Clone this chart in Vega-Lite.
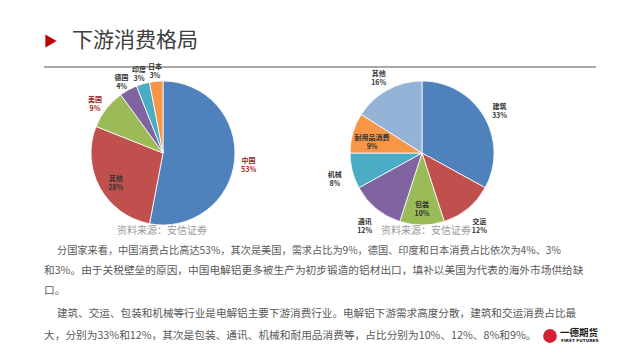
{
  "$schema": "https://vega.github.io/schema/vega-lite/v6.json",
  "width": 640,
  "height": 360,
  "autosize": {"type": "fit", "contains": "padding"},
  "padding": 0,
  "background": "#ffffff",
  "config": {"view": {"stroke": null}, "font": "Noto Sans CJK SC"},
  "datasets": {
    "countries": [
      {"chart": "国家", "rank": 1, "name": "中国", "share": 53},
      {"chart": "国家", "rank": 2, "name": "其他", "share": 28},
      {"chart": "国家", "rank": 3, "name": "美国", "share": 9},
      {"chart": "国家", "rank": 4, "name": "德国", "share": 4},
      {"chart": "国家", "rank": 5, "name": "印度", "share": 3},
      {"chart": "国家", "rank": 6, "name": "日本", "share": 3}
    ],
    "sectors": [
      {"chart": "行业", "rank": 1, "name": "建筑", "share": 33},
      {"chart": "行业", "rank": 2, "name": "交运", "share": 12},
      {"chart": "行业", "rank": 3, "name": "包装", "share": 10},
      {"chart": "行业", "rank": 4, "name": "通讯", "share": 12},
      {"chart": "行业", "rank": 5, "name": "机械", "share": 8},
      {"chart": "行业", "rank": 6, "name": "耐用品消费", "share": 9},
      {"chart": "行业", "rank": 7, "name": "其他", "share": 16}
    ],
    "sources": [
      {"chart": "国家", "src": "资料来源：安信证券"},
      {"chart": "行业", "src": "资料来源：安信证券"}
    ]
  },
  "layer": [
    {
      "data": {"values": [{}]},
      "mark": {"type": "point", "shape": "triangle-right", "filled": true, "color": "#C00000", "opacity": 1, "size": 170},
      "encoding": {"x": {"value": 51}, "y": {"value": 41}}
    },
    {
      "data": {"values": [{}]},
      "mark": {"type": "text", "align": "left", "baseline": "middle", "fontSize": 21, "color": "#404040", "font": "Noto Sans CJK SC"},
      "encoding": {"x": {"value": 72}, "y": {"value": 41}, "text": {"value": "下游消费格局"}}
    },
    {
      "data": {"values": [{}]},
      "mark": {"type": "rule", "color": "#8C8C8C", "strokeWidth": 1.5},
      "encoding": {"x": {"value": 44}, "x2": {"value": 596}, "y": {"value": 67}}
    },
    {
      "data": {"name": "countries"},
      "mark": {"type": "arc", "outerRadius": 72, "stroke": "#ffffff", "strokeWidth": 0.8},
      "encoding": {
        "theta": {"field": "share", "type": "quantitative", "stack": true},
        "order": {"field": "rank", "type": "quantitative"},
        "color": {"field": "name", "type": "nominal", "legend": null,
          "scale": {"domain": ["中国", "其他", "美国", "德国", "印度", "日本"],
                    "range": ["#4F81BD", "#C0504D", "#9BBB59", "#8064A2", "#4BACC6", "#F79646"]}},
        "x": {"field": "chart", "type": "nominal", "axis": null, "scale": {"type": "point", "domain": ["国家", "行业"], "range": [163, 422], "padding": 0}},
        "y": {"value": 153}
      }
    },
    {
      "data": {"name": "countries"},
      "transform": [{"calculate": "datum.name + '\\n' + datum.share + '%'", "as": "label"}],
      "mark": {"type": "text", "fontSize": 7, "fontWeight": "bold", "lineBreak": "\n", "align": "center", "baseline": "middle", "font": "Noto Sans CJK SC", "radius": 86},
      "encoding": {
        "theta": {"field": "share", "type": "quantitative", "stack": true},
        "order": {"field": "rank", "type": "quantitative"},
        "text": {"condition": {"test": "datum.name !== '其他'", "field": "label"}, "value": ""},
        "color": {"condition": {"test": "datum.name === '中国' || datum.name === '美国'", "value": "#9B1B1B"}, "value": "#333333"},
        "x": {"field": "chart", "type": "nominal", "axis": null, "scale": {"type": "point", "domain": ["国家", "行业"], "range": [163, 422], "padding": 0}},
        "y": {"value": 153}
      }
    },
    {
      "data": {"name": "countries"},
      "transform": [{"calculate": "datum.name + '\\n' + datum.share + '%'", "as": "label"}],
      "mark": {"type": "text", "fontSize": 7, "fontWeight": "bold", "lineBreak": "\n", "align": "center", "baseline": "middle", "font": "Noto Sans CJK SC", "radius": 54},
      "encoding": {
        "theta": {"field": "share", "type": "quantitative", "stack": true},
        "order": {"field": "rank", "type": "quantitative"},
        "text": {"condition": {"test": "datum.name === '其他'", "field": "label"}, "value": ""},
        "color": {"value": "#333333"},
        "x": {"field": "chart", "type": "nominal", "axis": null, "scale": {"type": "point", "domain": ["国家", "行业"], "range": [163, 422], "padding": 0}},
        "y": {"value": 153}
      }
    },
    {
      "data": {"name": "sectors"},
      "mark": {"type": "arc", "outerRadius": 72, "stroke": "#ffffff", "strokeWidth": 0.8},
      "encoding": {
        "theta": {"field": "share", "type": "quantitative", "stack": true},
        "order": {"field": "rank", "type": "quantitative"},
        "color": {"field": "name", "type": "nominal", "legend": null,
          "scale": {"domain": ["建筑", "交运", "包装", "通讯", "机械", "耐用品消费", "其他"],
                    "range": ["#4F81BD", "#C0504D", "#9BBB59", "#8064A2", "#4BACC6", "#F79646", "#95B3D7"]}},
        "x": {"field": "chart", "type": "nominal", "axis": null, "scale": {"type": "point", "domain": ["国家", "行业"], "range": [163, 422], "padding": 0}},
        "y": {"value": 153}
      }
    },
    {
      "data": {"name": "sectors"},
      "transform": [{"calculate": "datum.name + '\\n' + datum.share + '%'", "as": "label"}],
      "mark": {"type": "text", "fontSize": 7, "fontWeight": "bold", "lineBreak": "\n", "align": "center", "baseline": "middle", "font": "Noto Sans CJK SC", "radius": 90},
      "encoding": {
        "theta": {"field": "share", "type": "quantitative", "stack": true},
        "order": {"field": "rank", "type": "quantitative"},
        "text": {"condition": {"test": "datum.name !== '包装' && datum.name !== '耐用品消费'", "field": "label"}, "value": ""},
        "color": {"value": "#333333"},
        "x": {"field": "chart", "type": "nominal", "axis": null, "scale": {"type": "point", "domain": ["国家", "行业"], "range": [163, 422], "padding": 0}},
        "y": {"value": 153}
      }
    },
    {
      "data": {"name": "sectors"},
      "transform": [{"calculate": "datum.name + '\\n' + datum.share + '%'", "as": "label"}],
      "mark": {"type": "text", "fontSize": 7, "fontWeight": "bold", "lineBreak": "\n", "align": "center", "baseline": "middle", "font": "Noto Sans CJK SC", "radius": 52},
      "encoding": {
        "theta": {"field": "share", "type": "quantitative", "stack": true},
        "order": {"field": "rank", "type": "quantitative"},
        "text": {"condition": {"test": "datum.name === '包装' || datum.name === '耐用品消费'", "field": "label"}, "value": ""},
        "color": {"value": "#333333"},
        "x": {"field": "chart", "type": "nominal", "axis": null, "scale": {"type": "point", "domain": ["国家", "行业"], "range": [163, 422], "padding": 0}},
        "y": {"value": 153}
      }
    },
    {
      "data": {"name": "sources"},
      "mark": {"type": "text", "fontSize": 10, "color": "#9A9A9A", "align": "center", "baseline": "middle", "font": "Noto Sans CJK SC"},
      "encoding": {
        "x": {"field": "chart", "type": "nominal", "axis": null, "scale": {"type": "point", "domain": ["国家", "行业"], "range": [162, 426], "padding": 0}},
        "y": {"value": 231},
        "text": {"field": "src"}
      }
    },
    {
      "data": {"values": [{}]},
      "mark": {"type": "text", "align": "left", "baseline": "middle", "fontSize": 10.2, "color": "#595959", "font": "Noto Sans CJK SC"},
      "encoding": {"x": {"value": 57}, "y": {"value": 251},
        "text": {"value": "分国家来看，中国消费占比高达53%，其次是美国，需求占比为9%，德国、印度和日本消费占比依次为4%、3%"}}
    },
    {
      "data": {"values": [{}]},
      "mark": {"type": "text", "align": "left", "baseline": "middle", "fontSize": 10.7, "color": "#595959", "font": "Noto Sans CJK SC"},
      "encoding": {"x": {"value": 44}, "y": {"value": 271},
        "text": {"value": "和3%。由于关税壁垒的原因，中国电解铝更多被生产为初步锻造的铝材出口，填补以美国为代表的海外市场供给缺"}}
    },
    {
      "data": {"values": [{}]},
      "mark": {"type": "text", "align": "left", "baseline": "middle", "fontSize": 10.7, "color": "#595959", "font": "Noto Sans CJK SC"},
      "encoding": {"x": {"value": 44}, "y": {"value": 291}, "text": {"value": "口。"}}
    },
    {
      "data": {"values": [{}]},
      "mark": {"type": "text", "align": "left", "baseline": "middle", "fontSize": 10.6, "color": "#595959", "font": "Noto Sans CJK SC"},
      "encoding": {"x": {"value": 57}, "y": {"value": 314},
        "text": {"value": "建筑、交运、包装和机械等行业是电解铝主要下游消费行业。电解铝下游需求高度分散，建筑和交运消费占比最"}}
    },
    {
      "data": {"values": [{}]},
      "mark": {"type": "text", "align": "left", "baseline": "middle", "fontSize": 10.7, "color": "#595959", "font": "Noto Sans CJK SC"},
      "encoding": {"x": {"value": 44}, "y": {"value": 336},
        "text": {"value": "大，分别为33%和12%，其次是包装、通讯、机械和耐用品消费等，占比分别为10%、12%、8%和9%。"}}
    },
    {
      "data": {"values": [{}]},
      "mark": {"type": "point", "shape": "circle", "filled": true, "color": "#D42030", "opacity": 1, "size": 190},
      "encoding": {"x": {"value": 550}, "y": {"value": 336}}
    },
    {
      "data": {"values": [{}]},
      "mark": {"type": "text", "align": "left", "baseline": "middle", "fontSize": 9.5, "fontWeight": "bold", "color": "#1A1A1A", "font": "Noto Sans CJK SC"},
      "encoding": {"x": {"value": 560}, "y": {"value": 333}, "text": {"value": "一德期货"}}
    },
    {
      "data": {"values": [{}]},
      "mark": {"type": "text", "align": "left", "baseline": "middle", "fontSize": 4.3, "fontWeight": "bold", "color": "#1A1A1A", "font": "DejaVu Sans"},
      "encoding": {"x": {"value": 561}, "y": {"value": 341}, "text": {"value": "FIRST FUTURES"}}
    }
  ],
  "resolve": {"scale": {"x": "independent", "y": "independent", "theta": "independent", "color": "independent", "radius": "independent"}}
}
